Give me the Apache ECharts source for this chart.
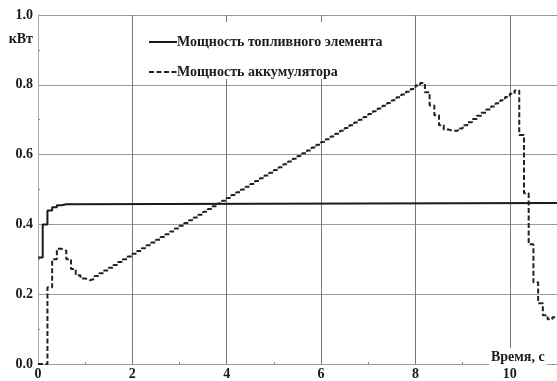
<!DOCTYPE html>
<html>
<head>
<meta charset="utf-8">
<script src="https://cdn.jsdelivr.net/npm/echarts@6/dist/echarts.min.js"></script>
<style>
  html, body { margin: 0; padding: 0; background: #fff; }
  #chart { width: 557px; height: 381px; }
</style>
</head>
<body>
<div id="chart"></div>
<script>
// Fuel cell power (kW) at the moments it changes, held until the next sample
var fuelTime  = [0.0, 0.1, 0.2, 0.3, 0.4, 0.5, 0.6, 11.0];
var fuelPower = [0.305, 0.40, 0.44, 0.449, 0.455, 0.458, 0.461, 0.461];

// Battery power (kW), sampled every 0.1 s
var batteryTime = [
  0.0, 0.1, 0.2, 0.3, 0.4, 0.5, 0.6, 0.7, 0.8, 0.9,
  1.0, 1.1, 1.2, 1.3, 1.4, 1.5, 1.6, 1.7, 1.8, 1.9,
  2.0, 2.1, 2.2, 2.3, 2.4, 2.5, 2.6, 2.7, 2.8, 2.9,
  3.0, 3.1, 3.2, 3.3, 3.4, 3.5, 3.6, 3.7, 3.8, 3.9,
  4.0, 4.1, 4.2, 4.3, 4.4, 4.5, 4.6, 4.7, 4.8, 4.9,
  5.0, 5.1, 5.2, 5.3, 5.4, 5.5, 5.6, 5.7, 5.8, 5.9,
  6.0, 6.1, 6.2, 6.3, 6.4, 6.5, 6.6, 6.7, 6.8, 6.9,
  7.0, 7.1, 7.2, 7.3, 7.4, 7.5, 7.6, 7.7, 7.8, 7.9,
  8.0, 8.1, 8.2, 8.3, 8.4, 8.5, 8.6, 8.7, 8.8, 8.9,
  9.0, 9.1, 9.2, 9.3, 9.4, 9.5, 9.6, 9.7, 9.8, 9.9,
  10.0, 10.1, 10.2, 10.3, 10.4, 10.5, 10.6, 10.7, 10.8, 10.9,
  11.0
];
var batteryPower = [
  0.000, 0.000, 0.220, 0.300, 0.330, 0.325, 0.300, 0.272, 0.254, 0.245,
  0.240, 0.244, 0.252, 0.260, 0.268, 0.276, 0.284, 0.292, 0.300, 0.308,
  0.316, 0.324, 0.332, 0.340, 0.348, 0.356, 0.364, 0.372, 0.380, 0.388,
  0.396, 0.404, 0.412, 0.420, 0.428, 0.436, 0.444, 0.452, 0.460, 0.468,
  0.476, 0.484, 0.492, 0.500, 0.508, 0.516, 0.524, 0.532, 0.540, 0.548,
  0.556, 0.564, 0.572, 0.580, 0.588, 0.596, 0.604, 0.612, 0.620, 0.628,
  0.636, 0.644, 0.652, 0.660, 0.668, 0.676, 0.684, 0.692, 0.700, 0.708,
  0.716, 0.724, 0.732, 0.740, 0.748, 0.756, 0.764, 0.772, 0.780, 0.788,
  0.798, 0.805, 0.779, 0.741, 0.713, 0.684, 0.672, 0.668, 0.668, 0.675,
  0.684, 0.693, 0.702, 0.711, 0.720, 0.729, 0.738, 0.747, 0.756, 0.765,
  0.774, 0.784, 0.656, 0.489, 0.343, 0.234, 0.174, 0.140, 0.128, 0.134,
  0.134
];

var seriesNames = ['Мощность топливного элемента', 'Мощность аккумулятора'];
var xTickStep = 2;
var yTickStep = 0.2;

function pairs(xs, ys) {
  return xs.map(function (x, i) { return [x, ys[i]]; });
}

var serif = '"Liberation Serif", "DejaVu Serif", serif';
var textBold = { fontFamily: serif, fontWeight: 'bold', fontSize: 14, color: '#1a1a1a' };

var chart = echarts.init(document.getElementById('chart'), null, { renderer: 'canvas' });
chart.setOption({
  animation: false,
  backgroundColor: '#fff',
  grid: { left: 38, right: 0, top: 15, bottom: 12, containLabel: false },
  legend: {
    left: 146, top: 22,
    orient: 'vertical',
    itemWidth: 28, itemHeight: 14, itemGap: 16,
    padding: [13, 4, 0, 2],
    backgroundColor: '#fff',
    textStyle: Object.assign({}, textBold, { padding: [0, 0, 0, -5] }),
    itemStyle: { opacity: 0 },
    data: seriesNames
  },
  xAxis: {
    type: 'value', min: 0, max: 11, interval: xTickStep,
    axisLine: { lineStyle: { color: '#999', width: 1 } },
    axisTick: { show: false, inside: true },
    minorTick: { show: true, splitNumber: 2, length: 2, lineStyle: { color: '#888' } },
    axisLabel: Object.assign({}, textBold, { margin: 3, showMaxLabel: false }),
    splitLine: { show: true, lineStyle: { color: '#777', width: 1 } }
  },
  yAxis: {
    type: 'value', min: 0, max: 1, interval: yTickStep,
    name: 'кВт', nameLocation: 'end', nameGap: -24,
    nameTextStyle: Object.assign({}, textBold, { align: 'right', verticalAlign: 'middle', padding: [0, 5, 0, 0] }),
    axisLine: { show: true, lineStyle: { color: '#aaa', width: 1 } },
    axisTick: { show: false, inside: true },
    minorTick: { show: true, splitNumber: 2, length: 2, lineStyle: { color: '#888' } },
    axisLabel: Object.assign({}, textBold, {
      margin: 5,
      formatter: function (v) { return v.toFixed(1); }
    }),
    splitLine: { show: true, lineStyle: { color: '#9a9a9a', width: 1.2 } }
  },
  graphic: [{
    type: 'text', left: 489, top: 348, z: 10,
    style: {
      text: 'Время, с',
      font: 'bold 14px ' + serif,
      fill: '#1a1a1a',
      backgroundColor: '#fff',
      padding: [2, 2, 2, 2]
    }
  }],
  series: [
    {
      name: seriesNames[0], type: 'line', step: 'end',
      symbol: 'none',
      lineStyle: { color: '#1a1a1a', width: 2 },
      itemStyle: { color: '#1a1a1a' },
      data: pairs(fuelTime, fuelPower)
    },
    {
      name: seriesNames[1], type: 'line', step: 'end',
      symbol: 'none',
      lineStyle: { color: '#222', width: 2, type: [5, 2.5] },
      itemStyle: { color: '#222' },
      data: pairs(batteryTime, batteryPower)
    }
  ]
});
</script>
</body>
</html>
